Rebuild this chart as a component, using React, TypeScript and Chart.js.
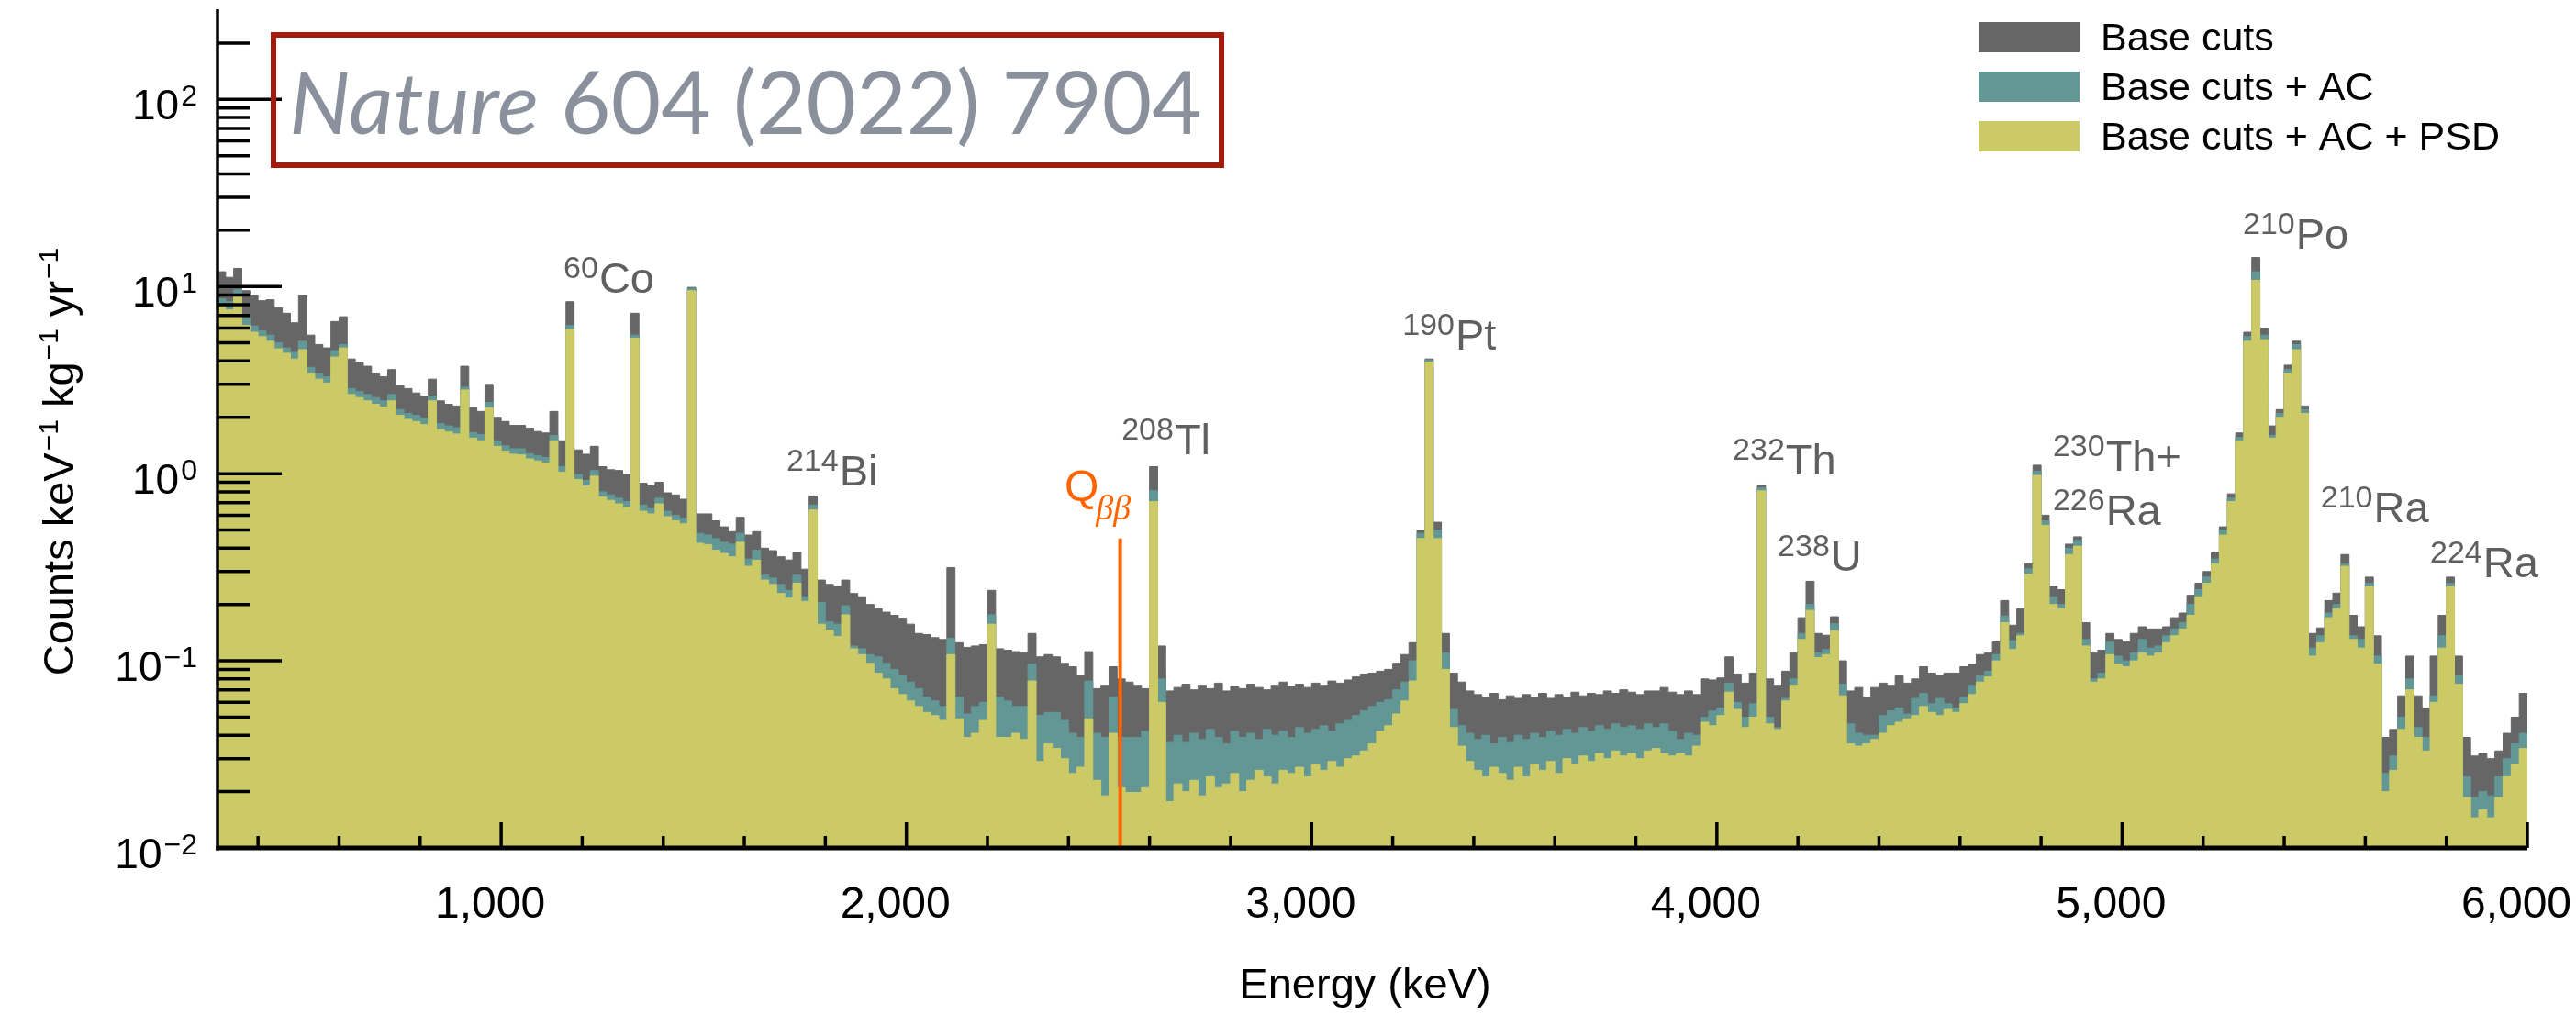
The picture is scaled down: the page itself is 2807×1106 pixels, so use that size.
import React, { useEffect, useRef } from 'react';
import { Chart, registerables } from 'chart.js';

Chart.register(...registerables);

// ---------- data ----------
const E_START = 300; // keV, first bin start
const E_END = 6000; // keV
const BIN_WIDTH = 20; // keV

const seriesLabels = ['Base cuts', 'Base cuts + AC', 'Base cuts + AC + PSD'];
const seriesColors = ['#666666', '#629796', '#ccca66'];

// counts keV^-1 kg^-1 yr^-1, one value per 20 keV bin starting at 300 keV
const baseCuts = [
  12.0, 11.2, 12.5, 9.5, 9.0, 8.4, 8.5, 7.7, 7.2, 6.4,
  9.0, 5.5, 4.9, 4.7, 6.5, 6.9, 4.1, 3.95, 3.75, 3.45,
  3.3, 3.6, 2.95, 2.85, 2.7, 2.6, 3.2, 2.45, 2.35, 2.3,
  3.75, 2.25, 2.15, 3.0, 2.0, 1.9, 1.81, 1.81, 1.75, 1.68,
  1.65, 2.15, 1.5, 8.3, 1.34, 1.27, 1.40, 1.09, 1.05, 1.04,
  0.99, 7.2, 0.89, 0.86, 0.90, 0.79, 0.77, 0.73, 9.9,
  0.61, 0.61, 0.56, 0.52, 0.49, 0.585, 0.47, 0.49, 0.40, 0.388,
  0.36, 0.346, 0.38, 0.309, 0.76, 0.27, 0.256, 0.25, 0.27, 0.229,
  0.22, 0.2, 0.19, 0.182, 0.175, 0.169, 0.157, 0.14, 0.138, 0.133,
  0.13, 0.315, 0.125, 0.118, 0.12, 0.122, 0.238, 0.116, 0.114, 0.112,
  0.11, 0.14, 0.105, 0.108, 0.105, 0.097, 0.093, 0.083, 0.112, 0.071,
  0.074, 0.093, 0.08, 0.077, 0.074, 0.071, 1.09, 0.12, 0.069,
  0.072, 0.075, 0.070, 0.074, 0.071, 0.076, 0.069, 0.073, 0.071, 0.075,
  0.072, 0.070, 0.074, 0.077, 0.073, 0.075, 0.072, 0.076, 0.074, 0.078,
  0.076, 0.079, 0.082, 0.085, 0.086, 0.088, 0.090, 0.097, 0.108, 0.125,
  0.50, 4.1, 0.55, 0.14, 0.086, 0.077, 0.069, 0.066, 0.064, 0.067,
  0.062, 0.065, 0.063, 0.066, 0.064, 0.067, 0.063, 0.066, 0.064, 0.068,
  0.065, 0.067, 0.066, 0.069, 0.067, 0.070, 0.068, 0.066, 0.069,
  0.069, 0.072, 0.068, 0.066, 0.069, 0.066, 0.080, 0.079, 0.081, 0.105,
  0.085, 0.076, 0.086, 0.87, 0.080, 0.074, 0.088, 0.110, 0.170, 0.266,
  0.140, 0.137, 0.172, 0.100, 0.069, 0.072, 0.064, 0.072, 0.076, 0.074,
  0.083, 0.076, 0.080, 0.093, 0.086, 0.083, 0.086, 0.086, 0.093, 0.096,
  0.108, 0.110, 0.126, 0.210, 0.155, 0.190, 0.330, 1.11, 0.60, 0.25,
  0.24, 0.42, 0.46, 0.16, 0.110, 0.114, 0.140,
  0.130, 0.126, 0.140, 0.152, 0.148, 0.148, 0.152, 0.170, 0.180, 0.224,
  0.260, 0.300, 0.380, 0.520, 0.780, 1.65, 5.7, 14.3, 6.0, 1.8,
  2.2, 3.8, 5.1, 2.3, 0.140, 0.150, 0.210, 0.230, 0.370, 0.175,
  0.152, 0.280, 0.136, 0.039, 0.043, 0.065, 0.106, 0.065, 0.056, 0.106,
  0.175, 0.280, 0.106, 0.039, 0.031, 0.032, 0.030, 0.033, 0.041, 0.050,
  0.067,
];

const baseCutsAC = [
  8.6, 8.3, 9.6, 6.8, 6.15, 5.8, 5.5, 5.0, 4.7, 4.45,
  5.1, 3.7, 3.45, 3.3, 4.55, 4.9, 2.85, 2.75, 2.65, 2.55,
  2.45, 2.65, 2.2, 2.1, 2.05, 1.98, 2.6, 1.85, 1.8, 1.76,
  2.9, 1.66, 1.62, 2.4, 1.5, 1.41, 1.36, 1.36, 1.28, 1.25,
  1.22, 1.6, 1.09, 6.2, 0.99, 0.92, 1.04, 0.8, 0.77, 0.74,
  0.71, 5.5, 0.68, 0.65, 0.74, 0.63, 0.6, 0.58, 9.8,
  0.48, 0.47, 0.45, 0.43, 0.42, 0.48, 0.35, 0.39, 0.287, 0.277,
  0.256, 0.238, 0.287, 0.22, 0.68, 0.205, 0.162, 0.157, 0.197, 0.12,
  0.116, 0.108, 0.105, 0.097, 0.09, 0.083, 0.077, 0.071, 0.064, 0.061,
  0.057, 0.132, 0.064, 0.052, 0.057, 0.06, 0.176, 0.064, 0.061, 0.057,
  0.057, 0.096, 0.051, 0.053, 0.053, 0.048, 0.041, 0.039, 0.078, 0.041,
  0.039, 0.064, 0.039, 0.039, 0.039, 0.042, 0.81, 0.08, 0.037,
  0.040, 0.037, 0.041, 0.038, 0.043, 0.039, 0.036, 0.042, 0.039, 0.041,
  0.038, 0.043, 0.040, 0.042, 0.039, 0.044, 0.041, 0.043, 0.045, 0.042,
  0.046, 0.048, 0.051, 0.054, 0.057, 0.060, 0.062, 0.070, 0.077, 0.100,
  0.48, 4.05, 0.50, 0.11, 0.055, 0.045, 0.041, 0.038, 0.040, 0.036,
  0.039, 0.037, 0.040, 0.038, 0.041, 0.039, 0.042, 0.040, 0.043, 0.041,
  0.044, 0.042, 0.045, 0.043, 0.046, 0.044, 0.045, 0.043, 0.046,
  0.044, 0.046, 0.042, 0.038, 0.041, 0.040, 0.050, 0.054, 0.056, 0.076,
  0.060, 0.050, 0.059, 0.84, 0.050, 0.044, 0.063, 0.080, 0.140, 0.200,
  0.110, 0.115, 0.158, 0.075, 0.046, 0.041, 0.040, 0.040, 0.051, 0.054,
  0.056, 0.052, 0.063, 0.067, 0.059, 0.063, 0.059, 0.056, 0.064, 0.074,
  0.083, 0.088, 0.108, 0.174, 0.128, 0.140, 0.310, 1.03, 0.56, 0.22,
  0.20, 0.40, 0.44, 0.13, 0.080, 0.086, 0.126,
  0.106, 0.100, 0.110, 0.130, 0.117, 0.120, 0.136, 0.148, 0.160, 0.200,
  0.240, 0.280, 0.350, 0.500, 0.740, 1.56, 5.4, 12.0, 5.5, 1.6,
  2.1, 3.6, 4.9, 2.2, 0.117, 0.136, 0.180, 0.200, 0.330, 0.136,
  0.130, 0.260, 0.106, 0.025, 0.031, 0.050, 0.080, 0.044, 0.039, 0.065,
  0.136, 0.260, 0.083, 0.024, 0.0186, 0.020, 0.019, 0.024, 0.030, 0.036,
  0.041,
];

const baseCutsACPSD = [
  7.8, 7.5, 9.0, 6.2, 5.7, 5.4, 5.1, 4.65, 4.4, 4.1,
  4.6, 3.45, 3.2, 3.05, 4.2, 4.7, 2.65, 2.55, 2.45, 2.35,
  2.27, 2.45, 2.05, 1.95, 1.9, 1.83, 2.45, 1.72, 1.67, 1.63,
  2.8, 1.55, 1.5, 2.25, 1.4, 1.32, 1.27, 1.26, 1.2, 1.17,
  1.14, 1.5, 1.02, 5.9, 0.93, 0.86, 0.97, 0.75, 0.72, 0.69,
  0.66, 5.3, 0.63, 0.61, 0.69, 0.59, 0.56, 0.54, 9.5,
  0.425, 0.418, 0.39, 0.375, 0.36, 0.43, 0.32, 0.345, 0.27, 0.256,
  0.229, 0.216, 0.26, 0.208, 0.64, 0.157, 0.146, 0.135, 0.176, 0.116,
  0.108, 0.097, 0.086, 0.08, 0.071, 0.066, 0.061, 0.057, 0.053, 0.051,
  0.048, 0.108, 0.049, 0.039, 0.041, 0.048, 0.157, 0.039, 0.039, 0.041,
  0.038, 0.078, 0.029, 0.036, 0.034, 0.03, 0.025, 0.027, 0.049, 0.023,
  0.019, 0.041, 0.021, 0.0198, 0.0198, 0.021, 0.71, 0.06, 0.0177,
  0.022, 0.020, 0.023, 0.019, 0.024, 0.021, 0.022, 0.025, 0.020, 0.023,
  0.026, 0.024, 0.022, 0.026, 0.025, 0.027, 0.024, 0.028, 0.026, 0.029,
  0.027, 0.030, 0.031, 0.033, 0.036, 0.042, 0.045, 0.052, 0.061, 0.078,
  0.45, 3.95, 0.45, 0.09, 0.044, 0.035, 0.029, 0.026, 0.024, 0.027,
  0.025, 0.023, 0.027, 0.024, 0.028, 0.026, 0.029, 0.025, 0.030, 0.028,
  0.031, 0.029, 0.032, 0.030, 0.033, 0.031, 0.032, 0.030, 0.033,
  0.034, 0.032, 0.031, 0.032, 0.031, 0.035, 0.047, 0.045, 0.051, 0.068,
  0.055, 0.044, 0.050, 0.81, 0.046, 0.043, 0.061, 0.074, 0.130, 0.186,
  0.104, 0.108, 0.145, 0.065, 0.036, 0.035, 0.036, 0.038, 0.041, 0.045,
  0.047, 0.049, 0.051, 0.057, 0.053, 0.051, 0.055, 0.053, 0.059, 0.066,
  0.077, 0.082, 0.100, 0.160, 0.115, 0.136, 0.290, 0.98, 0.53, 0.20,
  0.19, 0.37, 0.41, 0.12, 0.077, 0.080, 0.108,
  0.096, 0.093, 0.100, 0.110, 0.106, 0.110, 0.125, 0.136, 0.148, 0.175,
  0.220, 0.260, 0.330, 0.470, 0.710, 1.50, 5.1, 10.8, 5.2, 1.55,
  2.0, 3.45, 4.6, 2.1, 0.106, 0.125, 0.170, 0.190, 0.320, 0.130,
  0.117, 0.250, 0.096, 0.020, 0.026, 0.043, 0.070, 0.039, 0.033, 0.060,
  0.117, 0.250, 0.075, 0.0186, 0.0145, 0.016, 0.0145, 0.0186, 0.024, 0.028,
  0.034,
];

// axes
const Y_MIN = 0.01;
const Y_MAX = 300;
const xMajorTickValues = [1000, 2000, 3000, 4000, 5000, 6000];
const xMajorTickLabels = ['1,000', '2,000', '3,000', '4,000', '5,000', '6,000'];
const X_MINOR_STEP = 200;
const yTickExponents = [-2, -1, 0, 1, 2];
const xAxisTitle = 'Energy (keV)';

// peak annotations: label anchor (left edge, baseline) in data coordinates
const peakMass = ['60', '214', '208', '190', '232', '238', '230', '226', '210', '210', '224'];
const peakSymbol = ['Co', 'Bi', 'Tl', 'Pt', 'Th', 'U', 'Th+', 'Ra', 'Po', 'Ra', 'Ra'];
const peakLabelEnergy = [1154, 1704, 2531, 3224, 4039, 4150, 4829, 4829, 5298, 5490, 5760];
const peakLabelLevel = [9.27, 0.865, 1.27, 4.6, 0.99, 0.303, 1.04, 0.532, 16.0, 0.551, 0.28];

const Q_BB_ENERGY = 2527.5;
const Q_BB_LINE_TOP = 0.45;
const Q_BB_LABEL_ENERGY = 2390;
const Q_BB_LABEL_LEVEL = 0.715;

const citationItalic = 'Nature';
const citationRest = ' 604 (2022) 7904';

// ---------- drawing helpers ----------
const SANS = '"Liberation Sans", Arial, Helvetica, sans-serif';
const ORANGE = '#ff6400';
const LABEL_GRAY = '#5f5f5f';

function toPoints(vals: number[]) {
  const pts = vals.map((v, i) => ({ x: E_START + i * BIN_WIDTH, y: v }));
  pts.push({ x: E_END, y: vals[vals.length - 1] });
  return pts;
}

const overlayPlugin = {
  id: 'overlay',
  afterDatasetsDraw(chart: any) {
    const { ctx, chartArea: ca } = chart;
    const xs = chart.scales.x;
    const ys = chart.scales.y;
    ctx.save();

    // Q_bb line
    const qx = xs.getPixelForValue(Q_BB_ENERGY);
    ctx.strokeStyle = ORANGE;
    ctx.lineWidth = 4;
    ctx.beginPath();
    ctx.moveTo(qx, ys.getPixelForValue(Q_BB_LINE_TOP));
    ctx.lineTo(qx, ca.bottom);
    ctx.stroke();

    // Q_bb label
    ctx.fillStyle = ORANGE;
    ctx.textAlign = 'left';
    ctx.textBaseline = 'alphabetic';
    const qlx = xs.getPixelForValue(Q_BB_LABEL_ENERGY);
    const qly = ys.getPixelForValue(Q_BB_LABEL_LEVEL);
    ctx.font = `48px ${SANS}`;
    ctx.fillText('Q', qlx, qly);
    const qw = ctx.measureText('Q').width;
    ctx.font = `italic 38px "Liberation Serif", "DejaVu Serif", serif`;
    ctx.fillText('ββ', qlx + qw - 3, qly + 20);

    // peak labels
    ctx.fillStyle = LABEL_GRAY;
    for (let i = 0; i < peakMass.length; i++) {
      const px = xs.getPixelForValue(peakLabelEnergy[i]);
      const py = ys.getPixelForValue(peakLabelLevel[i]);
      ctx.font = `34px ${SANS}`;
      ctx.fillText(peakMass[i], px, py - 16);
      const mw = ctx.measureText(peakMass[i]).width;
      ctx.font = `47px ${SANS}`;
      ctx.fillText(peakSymbol[i], px + mw + 1, py);
    }

    // axis lines
    ctx.strokeStyle = '#000';
    ctx.lineWidth = 3.5;
    ctx.beginPath();
    ctx.moveTo(ca.left, ca.top - 1);
    ctx.lineTo(ca.left, ca.bottom + 2.5);
    ctx.stroke();
    ctx.lineWidth = 5;
    ctx.beginPath();
    ctx.moveTo(ca.left - 1.75, ca.bottom);
    ctx.lineTo(ca.right, ca.bottom);
    ctx.stroke();

    // y ticks (inward)
    ctx.lineWidth = 3.5;
    ctx.beginPath();
    for (const e of yTickExponents) {
      for (let m = 1; m <= 9; m++) {
        const v = m * Math.pow(10, e);
        if (v >= Y_MAX) continue;
        const py = ys.getPixelForValue(v);
        const len = m === 1 ? 70 : 35;
        ctx.moveTo(ca.left, py);
        ctx.lineTo(ca.left + len, py);
      }
    }
    ctx.stroke();

    // x ticks (inward)
    ctx.lineWidth = 3.5;
    ctx.beginPath();
    for (let e = E_START + 100; e <= E_END; e += X_MINOR_STEP) {
      const px = xs.getPixelForValue(e);
      const major = xMajorTickValues.includes(e);
      ctx.moveTo(px, ca.bottom);
      ctx.lineTo(px, ca.bottom - (major ? 28 : 13));
    }
    ctx.stroke();

    // y tick labels 10^n
    ctx.fillStyle = '#000';
    ctx.textAlign = 'left';
    for (const e of yTickExponents) {
      const py = ys.getPixelForValue(Math.pow(10, e));
      const sup = e < 0 ? '\u2212' + String(-e) : String(e);
      ctx.font = `46px ${SANS}`;
      const wb = ctx.measureText('10').width;
      ctx.font = `32px ${SANS}`;
      const ws = ctx.measureText(sup).width;
      const right = ca.left - 22;
      const x0 = right - ws - 2 - wb;
      ctx.font = `46px ${SANS}`;
      ctx.fillText('10', x0, py + 22);
      ctx.font = `32px ${SANS}`;
      ctx.fillText(sup, x0 + wb + 2, py + 7);
    }

    // x tick labels
    ctx.font = `48px ${SANS}`;
    ctx.textAlign = 'center';
    xMajorTickValues.forEach((v, i) => {
      ctx.fillText(xMajorTickLabels[i], xs.getPixelForValue(v) - 12, ca.bottom + 76);
    });

    // x title
    ctx.font = `47px ${SANS}`;
    ctx.fillText(xAxisTitle, (ca.left + ca.right) / 2 - 8, ca.bottom + 164);

    // y title (rotated, with superscripts)
    const parts: [string, boolean][] = [
      ['Counts keV', false], ['\u22121', true], [' kg', false], ['\u22121', true], [' yr', false], ['\u22121', true],
    ];
    const mainFont = `47px ${SANS}`;
    const supFont = `30px ${SANS}`;
    let total = 0;
    const widths = parts.map(([t, s]) => {
      ctx.font = s ? supFont : mainFont;
      const w = ctx.measureText(t).width + (s ? 2 : 0);
      total += w;
      return w;
    });
    ctx.save();
    ctx.translate(80, 503);
    ctx.rotate(-Math.PI / 2);
    ctx.textAlign = 'left';
    let cx = -total / 2;
    parts.forEach(([t, s], i) => {
      ctx.font = s ? supFont : mainFont;
      ctx.fillText(t, cx + (s ? 2 : 0), s ? -17 : 0);
      cx += widths[i];
    });
    ctx.restore();

    // legend
    ctx.textAlign = 'left';
    ctx.font = `43px ${SANS}`;
    seriesLabels.forEach((lab, i) => {
      const top = 24 + 54 * i;
      ctx.fillStyle = seriesColors[i];
      ctx.fillRect(2156, top, 110, 33);
      ctx.fillStyle = '#000';
      ctx.fillText(lab, 2289, top + 31);
    });

    // citation box
    ctx.strokeStyle = '#a51b0b';
    ctx.lineWidth = 6;
    ctx.strokeRect(298, 38, 1033, 142);
    const citeFont = 'Lato, "Open Sans", sans-serif';
    ctx.font = `italic 100px ${citeFont}`;
    const wi = ctx.measureText(citationItalic).width;
    ctx.font = `100px ${citeFont}`;
    const wr = ctx.measureText(citationRest).width;
    const size = (100 * 995) / (wi + wr);
    ctx.fillStyle = '#8b919c';
    ctx.font = `italic ${size}px ${citeFont}`;
    ctx.fillText(citationItalic, 315, 146);
    const wi2 = ctx.measureText(citationItalic).width;
    ctx.font = `${size}px ${citeFont}`;
    ctx.fillText(citationRest, 315 + wi2, 146);

    ctx.restore();
  },
};

export default function App() {
  const canvasRef = useRef<HTMLCanvasElement | null>(null);

  useEffect(() => {
    const canvas = canvasRef.current;
    if (!canvas) return;
    const series = [baseCuts, baseCutsAC, baseCutsACPSD];
    const chart = new Chart(canvas, {
      type: 'line',
      data: {
        datasets: series.map((vals, i) => ({
          label: seriesLabels[i],
          data: toPoints(vals),
          stepped: true,
          fill: 'start',
          backgroundColor: seriesColors[i],
          borderColor: seriesColors[i],
          borderWidth: 1,
          pointRadius: 0,
          order: 3 - i,
        })),
      },
      options: {
        responsive: false,
        animation: false,
        events: [],
        devicePixelRatio: 1,
        layout: { padding: { left: 237, right: 53, top: 11, bottom: 182 } },
        plugins: { legend: { display: false }, tooltip: { enabled: false } },
        scales: {
          x: { type: 'linear', min: E_START, max: E_END, display: false },
          y: { type: 'logarithmic', min: Y_MIN, max: Y_MAX, display: false },
        },
      },
      plugins: [overlayPlugin],
    } as any);
    return () => chart.destroy();
  }, []);

  return (
    <div style={{ position: 'fixed', left: 0, top: 0, width: 2807, height: 1106, background: '#fff' }}>
      <canvas ref={canvasRef} width={2807} height={1106} style={{ display: 'block' }} />
    </div>
  );
}
